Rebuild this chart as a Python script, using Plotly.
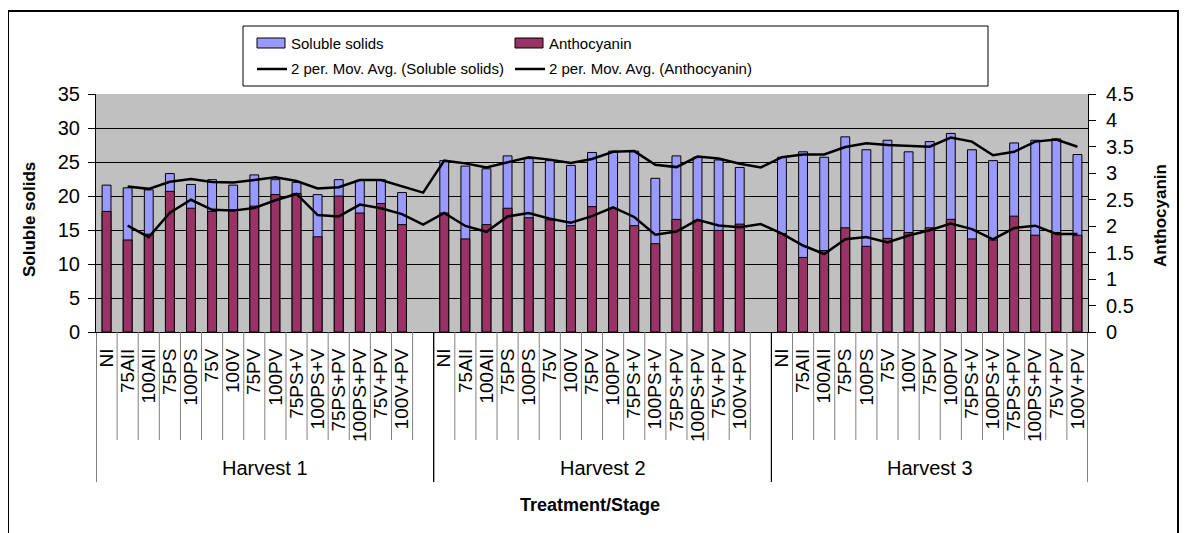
import plotly.graph_objects as go

# ---------------- data ----------------
harvests = ["Harvest 1", "Harvest 2", "Harvest 3"]
treatments = ["NI", "75AII", "100AII", "75PS", "100PS", "75V", "100V", "75PV", "100PV",
              "75PS+V", "100PS+V", "75PS+PV", "100PS+PV", "75V+PV", "100V+PV"]

soluble_h1 = [21.6, 21.2, 20.9, 23.3, 21.7, 22.4, 21.6, 23.1, 22.4, 22.0, 20.2, 22.4, 22.3, 22.4, 20.5]
soluble_h2 = [25.2, 24.4, 24.0, 25.9, 25.5, 25.2, 24.5, 26.4, 26.6, 26.6, 22.6, 25.9, 25.7, 25.3, 24.2]
soluble_h3 = [25.7, 26.5, 25.7, 28.7, 26.8, 28.2, 26.5, 28.0, 29.2, 26.8, 25.2, 27.8, 28.2, 28.4, 26.1]

antho_h1 = [2.28, 1.74, 1.85, 2.66, 2.34, 2.28, 2.31, 2.38, 2.60, 2.62, 1.80, 2.57, 2.25, 2.43, 2.03]
antho_h2 = [2.25, 1.76, 2.03, 2.34, 2.16, 2.12, 2.01, 2.37, 2.34, 2.01, 1.67, 2.13, 2.11, 1.92, 2.04]
antho_h3 = [1.86, 1.41, 1.54, 1.97, 1.62, 1.77, 1.88, 1.97, 2.13, 1.76, 1.74, 2.19, 1.83, 1.88, 1.83]

left_ticks = [0, 5, 10, 15, 20, 25, 30, 35]
right_ticks = [0, 0.5, 1, 1.5, 2, 2.5, 3, 3.5, 4, 4.5]

# ---------------- build category slots (blank slot between harvests) ----------------
soluble_sets = [soluble_h1, soluble_h2, soluble_h3]
antho_sets = [antho_h1, antho_h2, antho_h3]

xs, ss, an, labels = [], [], [], []
harvest_bounds = []
pos = 0
for h in range(len(harvests)):
    start = pos
    for i, t in enumerate(treatments):
        xs.append(pos); ss.append(soluble_sets[h][i]); an.append(antho_sets[h][i]); labels.append(t)
        pos += 1
    if h < len(harvests) - 1:
        xs.append(pos); ss.append(None); an.append(None); labels.append("")
        pos += 1
    harvest_bounds.append((start - 0.5, pos - 0.5))
n_slots = pos


def moving_avg(vals, period=2):
    out = [None]
    for i in range(1, len(vals)):
        win = [v for v in vals[i - period + 1:i + 1] if v is not None]
        out.append(sum(win) / len(win) if win else None)
    return out


ss_ma = moving_avg(ss)
an_ma = moving_avg(an)

# ---------------- geometry (screen coords include the 8px page margin) ----------------
OFF = 8
W, H = 1180, 525
L, T = 88, 86
PW, PH = 992, 238
R = W - L - PW
B = H - T - PH


def px(x):
    return (x - OFF - L) / PW


def py(y):
    return 1 - (y - OFF - T) / PH


FONT = "Liberation Sans, Arial, sans-serif"
BLUE = "#9999FF"
MAROON = "#993366"

fig = go.Figure()
fig.add_trace(go.Bar(x=xs, y=ss, width=0.42, marker=dict(color=BLUE, line=dict(color="black", width=1)),
                     name="Soluble solids", yaxis="y"))
fig.add_trace(go.Bar(x=xs, y=an, width=0.42, marker=dict(color=MAROON, line=dict(color="black", width=1)),
                     name="Anthocyanin", yaxis="y2"))
fig.add_trace(go.Scatter(x=xs, y=an_ma, mode="lines", line=dict(color="black", width=2.5),
                         name="2 per. Mov. Avg. (Anthocyanin)", yaxis="y2"))
fig.add_trace(go.Scatter(x=xs, y=ss_ma, mode="lines", line=dict(color="black", width=2.5),
                         name="2 per. Mov. Avg. (Soluble solids)", yaxis="y3"))

shapes = []
# category separators below axis
for h, (a, b) in enumerate(harvest_bounds):
    k = a + 1
    while k < b - 0.01:
        shapes.append(dict(type="line", xref="x", yref="paper", x0=k, x1=k, y0=0, y1=py(440),
                           line=dict(color="#808080", width=1)))
        k += 1
for (a, b) in harvest_bounds:
    for xb in (a, b):
        shapes.append(dict(type="line", xref="x", yref="paper", x0=xb, x1=xb, y0=0, y1=py(482),
                           line=dict(color="black", width=1)))
# outer chart border
shapes.append(dict(type="rect", xref="paper", yref="paper", x0=px(8), x1=px(1178), y0=py(11), y1=py(560),
                   line=dict(color="black", width=2), fillcolor="rgba(0,0,0,0)", layer="below"))
# legend box
shapes.append(dict(type="rect", xref="paper", yref="paper", x0=px(243), x1=px(988), y0=py(26), y1=py(86),
                   line=dict(color="black", width=1), fillcolor="white"))
# legend swatches
shapes.append(dict(type="rect", xref="paper", yref="paper", x0=px(257), x1=px(285), y0=py(38), y1=py(48),
                   line=dict(color="black", width=1), fillcolor=BLUE))
shapes.append(dict(type="rect", xref="paper", yref="paper", x0=px(515), x1=px(543), y0=py(38), y1=py(48),
                   line=dict(color="black", width=1), fillcolor=MAROON))
shapes.append(dict(type="line", xref="paper", yref="paper", x0=px(257), x1=px(287), y0=py(69), y1=py(69),
                   line=dict(color="black", width=2.5)))
shapes.append(dict(type="line", xref="paper", yref="paper", x0=px(515), x1=px(545), y0=py(69), y1=py(69),
                   line=dict(color="black", width=2.5)))

annotations = []
leg = [("Soluble solids", 289, 43), ("Anthocyanin", 547, 43),
       ("2 per. Mov. Avg. (Soluble solids)", 289, 69), ("2 per. Mov. Avg. (Anthocyanin)", 547, 69)]
for txt, x0, y0 in leg:
    annotations.append(dict(text=txt, xref="paper", yref="paper", x=px(x0), y=py(y0), xanchor="left",
                            yanchor="middle", showarrow=False, font=dict(family=FONT, size=15, color="black")))
for h, (a, b) in enumerate(harvest_bounds):
    annotations.append(dict(text=harvests[h], xref="x", yref="paper", x=(a + b) / 2, y=py(468),
                            xanchor="center", yanchor="middle", showarrow=False,
                            font=dict(family=FONT, size=20, color="black")))
annotations.append(dict(text="<b>Treatment/Stage</b>", xref="paper", yref="paper", x=px(590), y=py(505),
                        xanchor="center", yanchor="middle", showarrow=False,
                        font=dict(family=FONT, size=18, color="black")))
annotations.append(dict(text="<b>Soluble solids</b>", xref="paper", yref="paper", x=px(29), y=py(220),
                        xanchor="center", yanchor="middle", showarrow=False, textangle=-90,
                        font=dict(family=FONT, size=17, color="black")))
annotations.append(dict(text="<b>Anthocyanin</b>", xref="paper", yref="paper", x=px(1160), y=py(216),
                        xanchor="center", yanchor="middle", showarrow=False, textangle=-90,
                        font=dict(family=FONT, size=17, color="black")))

fig.update_layout(
    width=W, height=H,
    margin=dict(l=L, r=R, t=T, b=B, pad=0),
    paper_bgcolor="white", plot_bgcolor="#C0C0C0",
    barmode="overlay", showlegend=False,
    font=dict(family=FONT, size=18, color="black"),
    xaxis=dict(range=[-0.5, n_slots - 0.5], tickmode="array", tickvals=xs, ticktext=labels,
               tickangle=-90, ticks="", showgrid=False, zeroline=False, showline=True,
               linecolor="black", linewidth=1, ticklabelstandoff=8,
               tickfont=dict(family=FONT, size=19, color="black")),
    yaxis=dict(range=[0, 35], tickvals=left_ticks, ticks="outside", ticklen=7, tickcolor="black",
               showline=True, linecolor="black", linewidth=1, showgrid=True, gridcolor="#000000",
               gridwidth=1, zeroline=False, ticklabelstandoff=4,
               tickfont=dict(family=FONT, size=20, color="black")),
    yaxis2=dict(range=[0, 4.5], tickvals=right_ticks, overlaying="y", side="right", ticks="outside",
                ticklen=7, tickcolor="black", showline=True, linecolor="black", linewidth=1,
                showgrid=False, zeroline=False, ticklabelstandoff=6,
                tickfont=dict(family=FONT, size=20, color="black")),
    yaxis3=dict(range=[0, 35], overlaying="y", visible=False),
    shapes=shapes, annotations=annotations,
)

fig.write_html("out.html")
